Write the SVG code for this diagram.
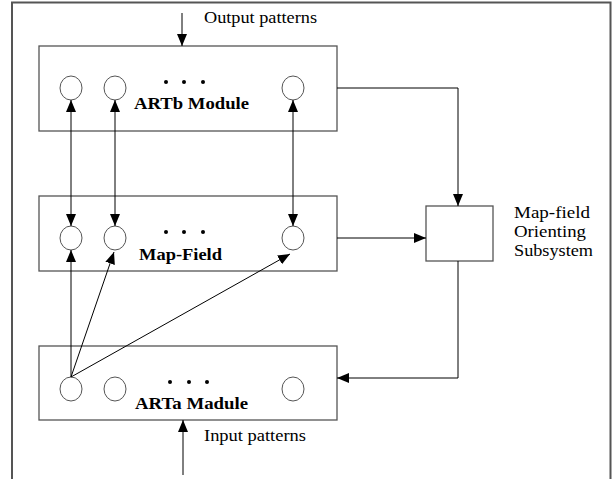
<svg xmlns="http://www.w3.org/2000/svg" width="613" height="479" viewBox="0 0 613 479">
<defs>
<marker id="ah" viewBox="0 0 12 10" refX="12" refY="5" markerWidth="12" markerHeight="10" markerUnits="userSpaceOnUse" orient="auto-start-reverse">
<path d="M0,0 L12,5 L0,10 Z" fill="#000"/>
</marker>
</defs>
<style>
.frame{fill:none;stroke:#555;stroke-width:2}
.box{fill:#fff;stroke:#555;stroke-width:1.3}
.node{fill:#fff;stroke:#555;stroke-width:1}
.dot{fill:#000}
.ln{fill:none;stroke:#000;stroke-width:1}
.t{font-family:"Liberation Serif","Times New Roman",serif;font-size:16px;fill:#000}
.b{font-weight:bold}
</style>
<rect width="613" height="479" fill="#fff"/>
<path class="frame" d="M12,479 L12,2.5 L610.5,2.5 L610.5,479"/>

<g id="artb">
<rect class="box" x="39" y="46" width="298" height="85"/>
<ellipse class="node" cx="71" cy="88" rx="11" ry="12"/>
<ellipse class="node" cx="115" cy="88" rx="11" ry="12"/>
<ellipse class="node" cx="293" cy="88" rx="11" ry="12"/>
<circle class="dot" cx="166" cy="82" r="2"/><circle class="dot" cx="184" cy="82" r="2"/><circle class="dot" cx="203" cy="82" r="2"/>
<text class="t b" x="134" y="109" textLength="115" lengthAdjust="spacingAndGlyphs">ARTb Module</text>
</g>

<g id="mapfield">
<rect class="box" x="39" y="196" width="298" height="75"/>
<ellipse class="node" cx="71" cy="238" rx="11" ry="12"/>
<ellipse class="node" cx="115" cy="238" rx="11" ry="12"/>
<ellipse class="node" cx="293" cy="238" rx="11" ry="12"/>
<circle class="dot" cx="166" cy="232" r="2"/><circle class="dot" cx="184" cy="232" r="2"/><circle class="dot" cx="203" cy="232" r="2"/>
<text class="t b" x="139" y="260" textLength="83" lengthAdjust="spacingAndGlyphs">Map-Field</text>
</g>

<g id="arta">
<rect class="box" x="39" y="346" width="298" height="74"/>
<ellipse class="node" cx="71" cy="389" rx="11" ry="12"/>
<ellipse class="node" cx="115" cy="389" rx="11" ry="12"/>
<ellipse class="node" cx="293" cy="389" rx="11" ry="12"/>
<circle class="dot" cx="170" cy="382" r="2"/><circle class="dot" cx="189" cy="382" r="2"/><circle class="dot" cx="207" cy="382" r="2"/>
<text class="t b" x="135" y="409" textLength="113" lengthAdjust="spacingAndGlyphs">ARTa Madule</text>
</g>

<g id="orienting">
<rect class="box" x="426" y="206" width="67" height="55"/>
<text class="t" x="514" y="218" textLength="76" lengthAdjust="spacingAndGlyphs">Map-field</text>
<text class="t" x="514" y="237" textLength="72" lengthAdjust="spacingAndGlyphs">Orienting</text>
<text class="t" x="514" y="256" textLength="79" lengthAdjust="spacingAndGlyphs">Subsystem</text>
</g>

<g id="labels">
<text class="t" x="204" y="23" textLength="113" lengthAdjust="spacingAndGlyphs">Output patterns</text>
<text class="t" x="204" y="441" textLength="102" lengthAdjust="spacingAndGlyphs">Input patterns</text>
</g>

<g id="connectors">
<line class="ln" x1="182" y1="13" x2="182" y2="46" marker-end="url(#ah)"/>
<line class="ln" x1="71" y1="100" x2="71" y2="226" marker-start="url(#ah)" marker-end="url(#ah)"/>
<line class="ln" x1="115" y1="100" x2="115" y2="226" marker-start="url(#ah)" marker-end="url(#ah)"/>
<line class="ln" x1="293" y1="100" x2="293" y2="226" marker-start="url(#ah)" marker-end="url(#ah)"/>
<line class="ln" x1="71" y1="377" x2="71" y2="250" marker-end="url(#ah)"/>
<line class="ln" x1="71" y1="377" x2="114" y2="252" marker-end="url(#ah)"/>
<line class="ln" x1="71" y1="377" x2="290" y2="254" marker-end="url(#ah)"/>
<polyline class="ln" points="337,88 458,88 458,206" marker-end="url(#ah)"/>
<line class="ln" x1="337" y1="238" x2="426" y2="238" marker-end="url(#ah)"/>
<polyline class="ln" points="458,261 458,378 337,378" marker-end="url(#ah)"/>
<line class="ln" x1="183" y1="475" x2="183" y2="420" marker-end="url(#ah)"/>
</g>
</svg>
